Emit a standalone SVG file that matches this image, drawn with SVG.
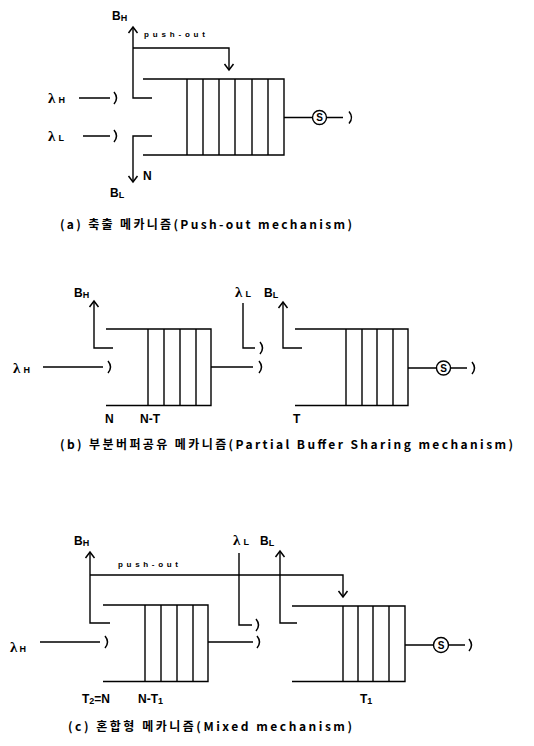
<svg xmlns="http://www.w3.org/2000/svg" width="534" height="746" viewBox="0 0 534 746">
<style>
.ln{stroke:#000;stroke-width:1.4;fill:none}
.q{stroke:#000;stroke-width:1.4;fill:none}
.br{stroke:#000;stroke-width:1.5;fill:none}
.srv{stroke:#000;stroke-width:1.4;fill:#fff}
.lbl{font-family:"Liberation Sans",Arial,sans-serif;font-weight:bold;font-size:12px;fill:#000}
.sub{font-size:9px}
.lam{font-family:"Liberation Serif","Times New Roman",serif;font-weight:bold;font-size:15px;fill:#000}
.po{font-family:"Liberation Sans",Arial,sans-serif;font-weight:bold;font-size:8px;fill:#000}
.cap{font-family:"Noto Sans CJK KR","Liberation Sans",sans-serif;font-weight:bold;font-size:12px;fill:#000}
.s{font-family:"Liberation Sans",Arial,sans-serif;font-weight:bold;font-size:10px;fill:#000;text-anchor:middle}
</style>
<defs>
<marker id="arr" viewBox="-8 -6 10 12" refX="0" refY="0" markerWidth="10" markerHeight="12" markerUnits="userSpaceOnUse" orient="auto">
<path d="M-6,-4.5 L0,0 L-6,4.5" fill="none" stroke="#000" stroke-width="1.5"/>
</marker>
</defs>
<rect width="534" height="746" fill="#fff"/>

<!-- (a) -->
<g id="a-queue">
<path class="q" d="M143,79 H284 V155 H143"/>
<path class="q" d="M187,79 V155 M203,79 V155 M219,79 V155 M235,79 V155 M252,79 V155 M268,79 V155"/>
</g>
<g id="a-server">
<circle class="srv" cx="319.5" cy="117.5" r="7"/>
<text class="s" x="319.5" y="121">S</text>
</g>
<g id="a-labels">
<text class="lbl" x="112" y="20">B<tspan class="sub" dy="1">H</tspan></text>
<text class="po" x="144" y="37" textLength="61">push-out</text>
<text class="lam" x="48" y="103">λ<tspan class="sub" font-family="Liberation Sans" dx="3">H</tspan></text>
<text class="lam" x="48" y="141">λ<tspan class="sub" font-family="Liberation Sans" dx="3">L</tspan></text>
<text class="lbl" x="143" y="180">N</text>
<text class="lbl" x="110" y="197">B<tspan class="sub" dy="1">L</tspan></text>
<text class="cap" x="60" y="229" textLength="292">(a) 축출 메카니즘(Push-out mechanism)</text>
</g>
<g id="a-connectors">
<path class="ln" d="M152,98 H133 V27" marker-end="url(#arr)"/>
<path class="ln" d="M133,48 H229 V70" marker-end="url(#arr)"/>
<path class="ln" d="M152,136 H133 V182" marker-end="url(#arr)"/>
<path class="ln" d="M79,98 H110 M83,136 H110"/>
<path class="br" d="M114,92 Q119,98 114,104 M114,130 Q119,136 114,142"/>
<path class="ln" d="M284,117.5 H312.5 M326.5,117.5 H343"/>
<path class="br" d="M349,111.5 Q354,117.5 349,123.5"/>
</g>

<!-- (b) -->
<g id="b-queue1">
<path class="q" d="M106,329 H211 V405.5 H106"/>
<path class="q" d="M148,329 V405.5 M164,329 V405.5 M180,329 V405.5 M196,329 V405.5"/>
</g>
<g id="b-queue2">
<path class="q" d="M295,329 H408 V405.5 H295"/>
<path class="q" d="M346,329 V405.5 M362,329 V405.5 M377,329 V405.5 M393,329 V405.5"/>
</g>
<g id="b-server">
<circle class="srv" cx="443.5" cy="368" r="7"/>
<text class="s" x="443.5" y="371.5">S</text>
</g>
<g id="b-labels">
<text class="lbl" x="74" y="297">B<tspan class="sub" dy="1">H</tspan></text>
<text class="lam" x="13" y="373">λ<tspan class="sub" font-family="Liberation Sans" dx="3">H</tspan></text>
<text class="lam" x="235" y="297">λ<tspan class="sub" font-family="Liberation Sans" dx="3">L</tspan></text>
<text class="lbl" x="264" y="297">B<tspan class="sub" dy="1">L</tspan></text>
<text class="lbl" x="105" y="423">N</text>
<text class="lbl" x="140" y="423">N-T</text>
<text class="lbl" x="293" y="423">T</text>
<text class="cap" x="60" y="449" textLength="453">(b) 부분버퍼공유 메카니즘(Partial Buffer Sharing mechanism)</text>
</g>
<g id="b-connectors">
<path class="ln" d="M113,348 H94 V301" marker-end="url(#arr)"/>
<path class="ln" d="M43,367 H103 M211,367 H253"/>
<path class="br" d="M108,361 Q113,367 108,373 M259,361 Q264,367 259,373"/>
<path class="ln" d="M243,303 V348 H255"/>
<path class="br" d="M260,342 Q265,348 260,354"/>
<path class="ln" d="M302,348 H283 V302" marker-end="url(#arr)"/>
<path class="ln" d="M408,368 H436.5 M450.5,368 H467"/>
<path class="br" d="M472,362 Q477,368 472,374"/>
</g>

<!-- (c) -->
<g id="c-queue1">
<path class="q" d="M103,605 H208 V681.5 H103"/>
<path class="q" d="M145,605 V681.5 M161,605 V681.5 M177,605 V681.5 M193,605 V681.5"/>
</g>
<g id="c-queue2">
<path class="q" d="M292,606 H405 V681.5 H292"/>
<path class="q" d="M343,606 V681.5 M358,606 V681.5 M373,606 V681.5 M389,606 V681.5"/>
</g>
<g id="c-server">
<circle class="srv" cx="441" cy="645" r="7.5"/>
<text class="s" x="441" y="648.5">S</text>
</g>
<g id="c-labels">
<text class="lbl" x="74" y="545">B<tspan class="sub" dy="1">H</tspan></text>
<text class="po" x="118" y="567" textLength="60">push-out</text>
<text class="lam" x="10" y="652">λ<tspan class="sub" font-family="Liberation Sans" dx="2">H</tspan></text>
<text class="lam" x="233" y="545">λ<tspan class="sub" font-family="Liberation Sans" dx="3">L</tspan></text>
<text class="lbl" x="260" y="545">B<tspan class="sub" dy="1">L</tspan></text>
<text class="lbl" x="82" y="703">T<tspan class="sub" dy="1">2</tspan><tspan dy="-1">=N</tspan></text>
<text class="lbl" x="138" y="703">N-T<tspan class="sub" dy="1">1</tspan></text>
<text class="lbl" x="360" y="703">T<tspan class="sub" dy="1">1</tspan></text>
<text class="cap" x="68" y="731" textLength="284">(c) 혼합형 메카니즘(Mixed mechanism)</text>
</g>
<g id="c-connectors">
<path class="ln" d="M110,623 H90 V552" marker-end="url(#arr)"/>
<path class="ln" d="M90,575 H343 V597" marker-end="url(#arr)"/>
<path class="ln" d="M40,642 H100 M208,642 H253"/>
<path class="br" d="M105,636 Q110,642 105,648 M257,636 Q262,642 257,648"/>
<path class="ln" d="M239,553 V625 H252"/>
<path class="br" d="M256,619 Q261,625 256,631"/>
<path class="ln" d="M297,623 H280 V551" marker-end="url(#arr)"/>
<path class="ln" d="M405,645 H433.5 M448.5,645 H465"/>
<path class="br" d="M469,639 Q474,645 469,651"/>
</g>
</svg>
